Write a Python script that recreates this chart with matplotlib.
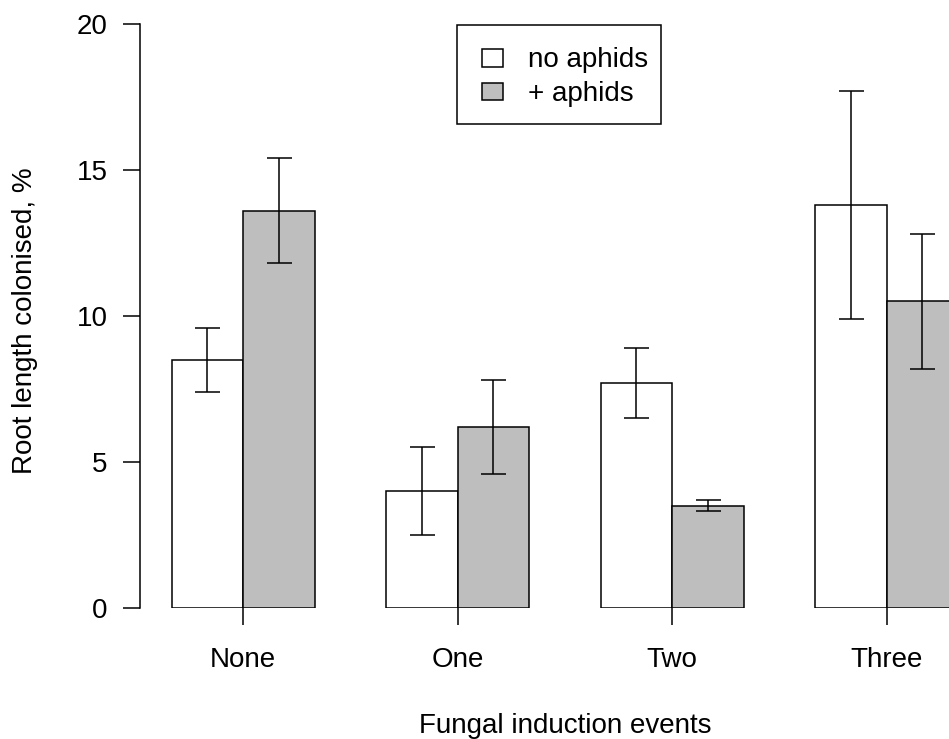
import matplotlib
matplotlib.use("Agg")
import matplotlib.pyplot as plt
from matplotlib.patches import Rectangle
import numpy as np

plt.rcParams['font.family'] = ['Liberation Sans', 'DejaVu Sans']

categories = ["None", "One", "Two", "Three"]
no_aphids = [8.5, 4.0, 7.7, 13.8]
no_aphids_err = [1.1, 1.5, 1.2, 3.9]
plus_aphids = [13.6, 6.2, 3.5, 10.5]
plus_aphids_err = [1.8, 1.6, 0.2, 2.3]
series_labels = ["no aphids", "+ aphids"]
yticks = [0, 5, 10, 15, 20]

W, H = 949, 739
fig = plt.figure(figsize=(W / 100, H / 100), dpi=100)
ax = fig.add_axes([140 / W, (H - 607.7) / H, (W - 140) / W, (607.7 - 24.3) / H])

grey = "#bebebe"
lw = 1.1
idx = np.arange(len(categories))
x_white = 1.5 + 3 * idx
x_grey = 2.5 + 3 * idx
colors = ["white", grey]

ax.bar(x_white, no_aphids, width=1.0, color=colors[0], edgecolor="black", linewidth=lw, zorder=2)
ax.bar(x_grey, plus_aphids, width=1.0, color=colors[1], edgecolor="black", linewidth=lw, zorder=2)
ax.errorbar(x_white, no_aphids, yerr=no_aphids_err, fmt="none", ecolor="black",
            elinewidth=lw, capsize=9, capthick=lw, zorder=3)
ax.errorbar(x_grey, plus_aphids, yerr=plus_aphids_err, fmt="none", ecolor="black",
            elinewidth=lw, capsize=9, capthick=lw, zorder=3)

xmin = 1 - (171.7 - 140) / 71.5
xmax = 1 + (W - 171.7) / 71.5
ax.set_xlim(xmin, xmax)
ax.set_ylim(0, 20)

for s in ["top", "right", "bottom"]:
    ax.spines[s].set_visible(False)
ax.spines["left"].set_linewidth(lw)
ax.spines["left"].set_bounds(0, 20)

ax.set_yticks(yticks)
ax.set_yticklabels([str(v) for v in yticks])
ax.set_xticks(2 + 3 * idx)
ax.set_xticklabels(categories)
ax.tick_params(axis="y", length=12.2, width=lw, labelsize=20, pad=11)
ax.tick_params(axis="x", length=12.2, width=lw, labelsize=20, pad=16)

fig.text(565 / W, (H - 733) / H, "Fungal induction events", ha="center", va="baseline", fontsize=20)
fig.text(25 / W, (H - 321) / H, "Root length colonised, %", ha="center", va="center",
         rotation=90, fontsize=20)

# legend (drawn in figure pixel coordinates, y measured from top)
def fy(py):
    return (H - py) / H

def fx(px):
    return px / W

box = Rectangle((fx(457), fy(124)), fx(661) - fx(457), fy(25) - fy(124),
                transform=fig.transFigure, facecolor="white", edgecolor="black",
                linewidth=lw, zorder=5)
fig.patches.append(box)
key_tops = [49.3, 82.7]
baselines = [67.3, 100.7]
for i, lab in enumerate(series_labels):
    key = Rectangle((fx(482), fy(key_tops[i] + 17.3)), fx(503) - fx(482), fy(key_tops[i]) - fy(key_tops[i] + 17.3),
                    transform=fig.transFigure, facecolor=colors[i], edgecolor="black",
                    linewidth=lw, zorder=6)
    fig.patches.append(key)
    fig.text(fx(528), fy(baselines[i]), lab, ha="left", va="baseline", fontsize=20, zorder=7)

fig.savefig("out.png", dpi=100)
